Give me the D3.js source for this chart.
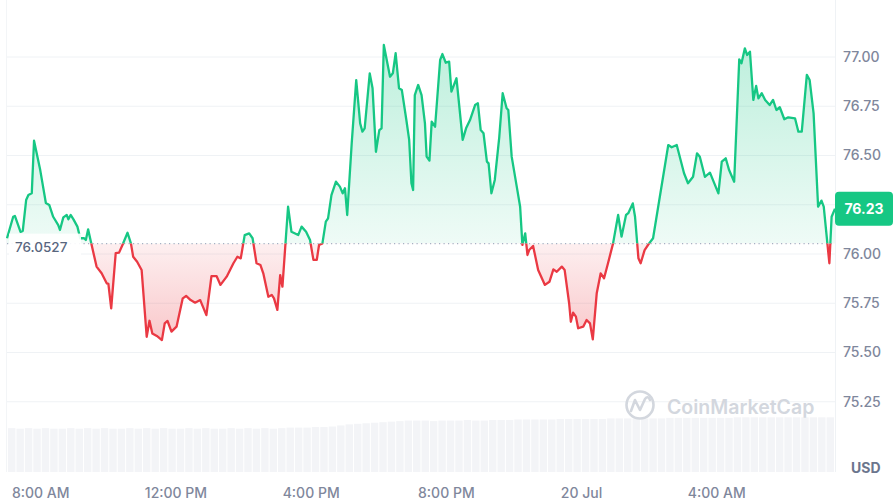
<!DOCTYPE html>
<html lang="en">
<head>
    <meta charset="UTF-8">
    <title>Price chart</title>
    <script src="https://cdn.jsdelivr.net/npm/d3@7"></script>
    <style>
        body { margin: 0; background: #fff; }
        text { font-family: Inter, "Noto Sans", sans-serif; }
    </style>
</head>
<body>
</body>
<script>
    // minutes after 07:00 on 19 Jul, and the price at that moment
    var minutes = [0, 11, 14, 24, 28, 34, 38, 44, 48, 59, 69, 75, 82, 91, 94, 100, 106, 109, 113, 118,
        125, 130, 137, 140, 144, 150, 159, 168, 177, 180, 185, 193, 199, 205, 214, 220, 224, 231, 239, 248,
        253, 258, 266, 275, 280, 285, 292, 301, 312, 318, 326, 334, 343, 354, 363, 372, 379, 390, 402, 409,
        415, 422, 430, 436, 443, 450, 455, 464, 470, 474, 480, 485, 489, 499, 505, 517, 523, 531, 538, 544,
        550, 554, 560, 566, 570, 576, 584, 591, 596, 600, 604, 612, 620, 627, 631, 635, 644, 649, 655, 661,
        665, 669, 680, 685, 690, 696, 701, 709, 714, 718, 721, 724, 730, 736, 742, 745, 750, 754, 760, 769,
        773, 779, 785, 789, 798, 809, 815, 822, 831, 836, 841, 846, 852, 855, 860, 866, 874, 880, 887, 890,
        896, 905, 911, 915, 920, 924, 927, 934, 943, 955, 963, 970, 976, 985, 990, 998, 1001, 1005, 1010, 1014,
        1023, 1029, 1035, 1040, 1047, 1054, 1060, 1067, 1076, 1085, 1091, 1099, 1103, 1111, 1115, 1121, 1125, 1132, 1140, 1147,
        1174, 1180, 1189, 1202, 1209, 1218, 1225, 1230, 1239, 1248, 1263, 1269, 1276, 1282, 1291, 1300, 1304, 1310, 1314, 1319,
        1325, 1330, 1334, 1340, 1346, 1354, 1360, 1366, 1372, 1380, 1387, 1399, 1405, 1411, 1420, 1425, 1432, 1440, 1446, 1450,
        1460, 1464, 1470];
    var prices = [76.080, 76.189, 76.193, 76.112, 76.117, 76.274, 76.299, 76.308, 76.575, 76.426, 76.259, 76.249, 76.189, 76.147, 76.122, 76.186, 76.198, 76.176, 76.198, 76.176,
        76.139, 76.080, 76.080, 76.071, 76.125, 76.049, 75.936, 75.902, 75.851, 75.848, 75.724, 76.004, 76.007, 76.046, 76.108, 76.054, 75.986, 75.961, 75.919, 75.580,
        75.661, 75.597, 75.584, 75.563, 75.648, 75.660, 75.606, 75.631, 75.775, 75.787, 75.766, 75.753, 75.766, 75.690, 75.888, 75.888, 75.843, 75.885, 75.953, 75.986,
        75.978, 76.096, 76.105, 76.080, 75.953, 75.944, 75.902, 75.783, 75.792, 75.775, 75.716, 75.893, 75.834, 76.240, 76.113, 76.096, 76.139, 76.113, 76.071, 75.970,
        75.970, 76.046, 76.054, 76.164, 76.181, 76.299, 76.367, 76.342, 76.308, 76.334, 76.198, 76.562, 76.883, 76.663, 76.621, 76.638, 76.917, 76.841, 76.519, 76.629,
        76.638, 77.061, 76.900, 76.917, 77.019, 76.841, 76.832, 76.680, 76.579, 76.359, 76.325, 76.807, 76.858, 76.807, 76.663, 76.494, 76.474, 76.672, 76.646, 76.985,
        77.015, 76.971, 76.976, 76.824, 76.892, 76.579, 76.638, 76.680, 76.756, 76.765, 76.629, 76.613, 76.469, 76.460, 76.308, 76.376, 76.595, 76.816, 76.740, 76.731,
        76.494, 76.342, 76.240, 76.046, 76.105, 75.995, 76.020, 76.041, 75.919, 75.843, 75.859, 75.922, 75.910, 75.936, 75.919, 75.750, 75.656, 75.702, 75.682, 75.623,
        75.631, 75.665, 75.648, 75.567, 75.801, 75.902, 75.877, 75.953, 76.054, 76.198, 76.088, 76.198, 76.207, 76.257, 76.189, 75.978, 75.953, 76.020, 76.054, 76.080,
        76.553, 76.542, 76.553, 76.410, 76.359, 76.392, 76.511, 76.494, 76.392, 76.413, 76.308, 76.469, 76.486, 76.426, 76.367, 76.988, 76.968, 77.044, 77.010, 77.027,
        76.782, 76.853, 76.790, 76.816, 76.782, 76.756, 76.782, 76.731, 76.745, 76.684, 76.694, 76.689, 76.621, 76.621, 76.909, 76.883, 76.714, 76.240, 76.271, 76.240,
        75.953, 76.189, 76.230];

    // volume, one bar per 15 minutes (relative units)
    var volumes = [0.81, 0.80, 0.81, 0.80, 0.81, 0.80, 0.80, 0.81, 0.80, 0.81, 0.80, 0.81, 0.80, 0.80, 0.81, 0.80, 0.81, 0.80, 0.81, 0.80,
        0.80, 0.81, 0.80, 0.81, 0.80, 0.80, 0.81, 0.80, 0.81, 0.80, 0.81, 0.80, 0.81, 0.82, 0.82, 0.82, 0.83, 0.83, 0.84, 0.86,
        0.88, 0.89, 0.90, 0.91, 0.92, 0.93, 0.94, 0.95, 0.95, 0.95, 0.94, 0.95, 0.95, 0.95, 0.96, 0.95, 0.95, 0.96, 0.96, 0.96,
        0.97, 0.97, 0.97, 0.97, 0.97, 0.98, 0.98, 0.98, 0.98, 0.98, 0.98, 0.99, 0.99, 0.99, 0.99, 0.99, 0.99, 0.99, 1.00, 1.00,
        1.00, 1.00, 1.00, 1.00, 1.00, 1.00, 1.01, 1.01, 1.01, 1.01, 1.01, 1.01, 1.01, 1.01, 1.01, 1.01, 1.01, 1.01];

    var yTicks = [75.25, 75.50, 75.75, 76.00, 76.25, 76.50, 76.75, 77.00];
    var openPrice = 76.0527;
    var lastPrice = 76.23;
    var start = new Date(2024, 6, 19, 7, 0);
    var end = new Date(2024, 6, 20, 7, 30);
    var xTicks = [new Date(2024, 6, 19, 8), new Date(2024, 6, 19, 12), new Date(2024, 6, 19, 16),
        new Date(2024, 6, 19, 20), new Date(2024, 6, 20, 0), new Date(2024, 6, 20, 4)];

    var width = 895, height = 504;
    var left = 7, right = 835;
    var green = '#16c784', red = '#ea3943';

    var data = minutes.map(function (m, i) {
        return {t: d3.timeMinute.offset(start, m), v: prices[i]};
    });

    var x = d3.scaleTime().domain([start, end]).range([left, right]);
    var y = d3.scaleLinear().domain([75.25, 77]).range([401.75, 57]);
    var yVol = d3.scaleLinear().domain([0, 1.33]).range([472, 400]);
    var baseY = y(openPrice);

    var svg = d3.select('body')
        .append('svg')
        .attr('width', width)
        .attr('height', height);

    var defs = svg.append('defs');

    var gUp = defs.append('linearGradient').attr('id', 'gUp')
        .attr('gradientUnits', 'userSpaceOnUse')
        .attr('x1', 0).attr('x2', 0).attr('y1', y(77.05)).attr('y2', baseY);
    gUp.append('stop').attr('offset', 0).attr('stop-color', green).attr('stop-opacity', 0.28);
    gUp.append('stop').attr('offset', 1).attr('stop-color', green).attr('stop-opacity', 0.07);

    var gDown = defs.append('linearGradient').attr('id', 'gDown')
        .attr('gradientUnits', 'userSpaceOnUse')
        .attr('x1', 0).attr('x2', 0).attr('y1', baseY).attr('y2', y(75.56));
    gDown.append('stop').attr('offset', 0).attr('stop-color', red).attr('stop-opacity', 0.08);
    gDown.append('stop').attr('offset', 1).attr('stop-color', red).attr('stop-opacity', 0.28);

    defs.append('clipPath').attr('id', 'clipUp')
        .append('rect').attr('x', 0).attr('y', 0).attr('width', width).attr('height', baseY);
    defs.append('clipPath').attr('id', 'clipDown')
        .append('rect').attr('x', 0).attr('y', baseY).attr('width', width).attr('height', height - baseY);

    // grid
    svg.append('g').selectAll('line')
        .data(yTicks)
        .enter().append('line')
        .attr('x1', left).attr('x2', right)
        .attr('y1', function (d) { return y(d); })
        .attr('y2', function (d) { return y(d); })
        .attr('stroke', '#eff2f5')
        .attr('stroke-width', 1);

    svg.append('line')
        .attr('x1', right + 0.5).attr('x2', right + 0.5)
        .attr('y1', 0).attr('y2', 472)
        .attr('stroke', '#eff2f5');
    svg.append('line')
        .attr('x1', left - 0.5).attr('x2', left - 0.5)
        .attr('y1', 0).attr('y2', 472)
        .attr('stroke', '#f3f5f7');

    // volume bars
    var xVol = d3.scaleBand().domain(d3.range(volumes.length)).range([left, right]).padding(0.12);
    svg.append('g').selectAll('rect')
        .data(volumes)
        .enter().append('rect')
        .attr('x', function (d, i) { return xVol(i); })
        .attr('width', xVol.bandwidth())
        .attr('y', function (d) { return yVol(d); })
        .attr('height', function (d) { return yVol(0) - yVol(d); })
        .attr('fill', '#f3f4f7');

    // watermark
    var wm = svg.append('g').attr('fill', 'none').attr('stroke', '#d3d7de');
    wm.append('circle').attr('cx', 640).attr('cy', 405).attr('r', 13.5).attr('stroke-width', 2.6);
    wm.append('path')
        .attr('d', 'M631,411 L635,400 L640,410 L645,399 Q648,395 650,400')
        .attr('stroke-width', 2.6).attr('stroke-linejoin', 'round').attr('stroke-linecap', 'round');
    svg.append('text')
        .attr('x', 667).attr('y', 407)
        .attr('dy', '0.35em')
        .attr('font-size', 19.5)
        .attr('font-weight', 600)
        .attr('fill', '#d3d7de')
        .text('CoinMarketCap');

    // areas and line
    var area = d3.area()
        .x(function (d) { return x(d.t); })
        .y0(baseY)
        .y1(function (d) { return y(d.v); });
    var line = d3.line()
        .x(function (d) { return x(d.t); })
        .y(function (d) { return y(d.v); });

    svg.append('path').datum(data)
        .attr('d', area).attr('fill', 'url(#gUp)').attr('clip-path', 'url(#clipUp)');
    svg.append('path').datum(data)
        .attr('d', area).attr('fill', 'url(#gDown)').attr('clip-path', 'url(#clipDown)');

    svg.append('line')
        .attr('x1', left).attr('x2', right)
        .attr('y1', baseY).attr('y2', baseY)
        .attr('stroke', '#a6b0c3')
        .attr('stroke-width', 1.2)
        .attr('stroke-dasharray', '1.2,3.3');

    svg.append('path').datum(data)
        .attr('d', line).attr('fill', 'none').attr('stroke', green)
        .attr('stroke-width', 2.3).attr('stroke-linejoin', 'round')
        .attr('clip-path', 'url(#clipUp)');
    svg.append('path').datum(data)
        .attr('d', line).attr('fill', 'none').attr('stroke', red)
        .attr('stroke-width', 2.3).attr('stroke-linejoin', 'round')
        .attr('clip-path', 'url(#clipDown)');

    // open price label
    svg.append('rect')
        .attr('x', 9).attr('y', baseY - 10).attr('width', 72).attr('height', 23)
        .attr('fill', '#fff').attr('fill-opacity', 0.9);
    svg.append('text')
        .attr('x', 15).attr('y', baseY + 3.5)
        .attr('dy', '0.35em')
        .attr('font-size', 13.5)
        .attr('font-weight', 500)
        .attr('fill', '#58667e')
        .text(openPrice.toFixed(4));

    // y axis labels
    svg.append('g').selectAll('text')
        .data(yTicks.filter(function (d) { return d !== 76.25; }))
        .enter().append('text')
        .attr('x', 843)
        .attr('y', function (d) { return y(d); })
        .attr('dy', '0.35em')
        .attr('font-size', 14)
        .attr('font-weight', 500)
        .attr('fill', '#7f879c')
        .text(function (d) { return d.toFixed(2); });

    svg.append('text')
        .attr('x', 851).attr('y', 468)
        .attr('dy', '0.35em')
        .attr('font-size', 14)
        .attr('font-weight', 700)
        .attr('fill', '#6b758d')
        .text('USD');

    // last price tag
    svg.append('rect')
        .attr('x', right).attr('y', y(lastPrice) - 17)
        .attr('width', 58).attr('height', 34)
        .attr('rx', 4)
        .attr('fill', green);
    svg.append('text')
        .attr('x', right + 29).attr('y', y(lastPrice))
        .attr('dy', '0.35em')
        .attr('text-anchor', 'middle')
        .attr('font-size', 14)
        .attr('font-weight', 700)
        .attr('fill', '#fff')
        .text(lastPrice.toFixed(2));

    // x axis labels
    var fmtDay = d3.timeFormat('%-d %b');
    var fmtHour = d3.timeFormat('%-I:%M %p');
    svg.append('g').selectAll('text')
        .data(xTicks)
        .enter().append('text')
        .attr('x', function (d) { return x(d); })
        .attr('y', 493)
        .attr('dy', '0.35em')
        .attr('text-anchor', 'middle')
        .attr('font-size', 14)
        .attr('font-weight', 500)
        .attr('fill', '#7f879c')
        .text(function (d) { return d.getHours() === 0 ? fmtDay(d) : fmtHour(d); });
</script>
</html>
